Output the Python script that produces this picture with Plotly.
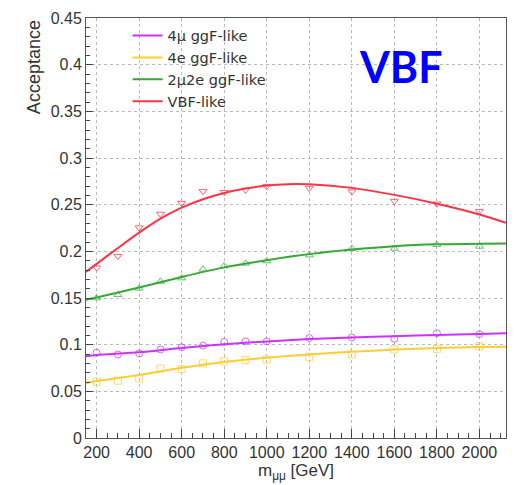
import plotly.graph_objects as go

# ---- data ----
mass = [200, 300, 400, 500, 600, 700, 800, 900, 1000, 1200, 1400, 1600, 1800, 2000]

acc_4mu = [0.0913, 0.0895, 0.0906, 0.0948, 0.0972, 0.0990, 0.1029, 0.1035, 0.1035, 0.1071, 0.1077, 0.1064, 0.1123, 0.1113]
acc_4e = [0.0604, 0.0614, 0.0639, 0.0744, 0.0737, 0.0800, 0.0821, 0.0835, 0.0842, 0.0870, 0.0895, 0.0948, 0.0955, 0.0983]
acc_2mu2e = [0.1500, 0.1534, 0.1604, 0.1678, 0.1713, 0.1808, 0.1843, 0.1871, 0.1896, 0.1959, 0.2029, 0.2030, 0.2071, 0.2053]
acc_vbf = [0.1825, 0.1948, 0.2254, 0.2400, 0.2517, 0.2643, 0.2633, 0.2657, 0.2696, 0.2678, 0.2640, 0.2538, 0.2510, 0.2430]

# fitted curves
fit_x = [150, 200, 400, 600, 800, 1000, 1200, 1400, 1600, 1800, 2000, 2125]
fit_4mu = [0.0877, 0.0890, 0.0919, 0.0965, 0.1005, 0.1035, 0.1060, 0.1077, 0.1090, 0.1104, 0.1113, 0.1123]
fit_4e = [0.0590, 0.0610, 0.0674, 0.0752, 0.0815, 0.0860, 0.0895, 0.0923, 0.0948, 0.0965, 0.0976, 0.0977]
fit_2mu2e = [0.1480, 0.1505, 0.1612, 0.1725, 0.1828, 0.1905, 0.1970, 0.2019, 0.2055, 0.2075, 0.2082, 0.2083]
fit_vbf_x = [150, 200, 300, 400, 500, 600, 700, 800, 900, 1000, 1100, 1200, 1400, 1600, 1800, 2000, 2125]
fit_vbf = [0.1780, 0.1866, 0.2035, 0.2200, 0.2350, 0.2468, 0.2558, 0.2625, 0.2672, 0.2705, 0.2720, 0.2718, 0.2680, 0.2605, 0.2510, 0.2395, 0.2306]

labels = ["4μ ggF-like", "4e ggF-like", "2μ2e ggF-like", "VBF-like"]
colors = ["#cc33ff", "#ffcc33", "#33aa33", "#ff3344"]
symbols = ["circle-open", "square-open", "triangle-up-open", "triangle-down-open"]

fig = go.Figure()

series = [
    (acc_4mu, fit_x, fit_4mu),
    (acc_4e, fit_x, fit_4e),
    (acc_2mu2e, fit_x, fit_2mu2e),
    (acc_vbf, fit_vbf_x, fit_vbf),
]

for (pts, fx, fy), lab, col, sym in zip(series, labels, colors, symbols):
    fig.add_trace(go.Scatter(
        x=mass, y=pts, mode="markers", showlegend=False,
        marker=dict(symbol=sym, size=7, color=col, line=dict(width=1, color=col)),
        opacity=0.75,
    ))
    fig.add_trace(go.Scatter(
        x=fx, y=fy, mode="lines", name=lab,
        line=dict(color=col, width=2, shape="spline", smoothing=0.7),
    ))

axis_font = dict(family="Liberation Sans, Arial, sans-serif", size=16, color="#333333")

fig.update_xaxes(
    range=[150, 2125], tick0=0, dtick=200,
    ticks="inside", ticklen=9, tickwidth=1, tickcolor="#444444",
    minor=dict(ticks="inside", ticklen=5, dtick=50, tick0=0, tickcolor="#444444", showgrid=False),
    showgrid=True, gridcolor="#bbbbbb", griddash="dot", gridwidth=1,
    showline=True, linecolor="#555555", linewidth=1, mirror=True,
    zeroline=False, tickfont=axis_font,
    title=dict(text="m<sub>μμ</sub> [GeV]", font=dict(family="Liberation Sans, Arial, sans-serif", size=17, color="#333333"), standoff=2),
)
fig.update_yaxes(
    range=[0, 0.45], tick0=0, dtick=0.05,
    ticks="inside", ticklen=7, tickwidth=1, tickcolor="#444444",
    minor=dict(ticks="inside", ticklen=4, dtick=0.01, tick0=0, tickcolor="#444444", showgrid=False),
    showgrid=True, gridcolor="#bbbbbb", griddash="dot", gridwidth=1,
    showline=True, linecolor="#555555", linewidth=1, mirror=True,
    zeroline=False, tickfont=axis_font,
)

fig.add_annotation(
    text="Acceptance", textangle=-90, xref="paper", yref="paper",
    x=-0.1235, y=1.0, xanchor="center", yanchor="top", showarrow=False,
    font=dict(family="Liberation Sans, Arial, sans-serif", size=18, color="#333333"),
)
fig.add_annotation(
    text="<b>VBF</b>", xref="paper", yref="paper",
    x=0.7506, y=0.885, xanchor="center", yanchor="middle", showarrow=False,
    font=dict(family="Lato, Open Sans, sans-serif", size=43, color="#0000ff"),
)

fig.update_layout(
    width=517, height=485,
    margin=dict(l=86, r=10, t=12, b=45),
    paper_bgcolor="white", plot_bgcolor="white",
    showlegend=True,
    legend=dict(
        x=0.099, y=0.996, xanchor="left", yanchor="top",
        bgcolor="rgba(0,0,0,0)", borderwidth=0,
        font=dict(family="DejaVu Sans, Liberation Sans, sans-serif", size=14.5, color="#333333"),
        itemwidth=30, tracegroupgap=0,
    ),
)

fig.write_html("out.html")
